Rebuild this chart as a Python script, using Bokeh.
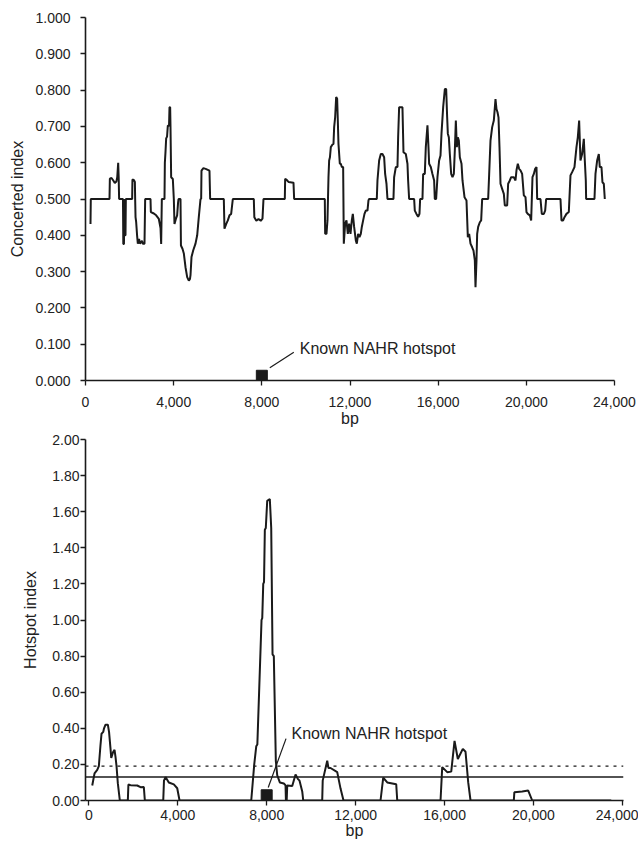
from bokeh.plotting import figure
from bokeh.models import SingleIntervalTicker, NumeralTickFormatter, Span
from bokeh.core.properties import value
from bokeh.embed import file_html
from bokeh.resources import INLINE

# ---- concerted index along the sequence (bp, index) ----
conc_bp = [
    227, 240, 1089, 1105, 1180, 1260, 1330, 1400, 1440, 1483, 1505, 1525,
    1700, 1715, 1745, 1760, 1790, 1815, 1830, 2117, 2130, 2200, 2240, 2253,
    2270, 2299, 2340, 2374, 2430, 2470, 2560, 2600, 2677, 2707, 2949, 2965,
    3100, 3206, 3327, 3403, 3433, 3463, 3584, 3600, 3629, 3660, 3700, 3735,
    3790, 3811, 3841, 3856, 3886, 3962, 4007, 4037, 4100, 4158, 4200, 4220,
    4310, 4330, 4400, 4461, 4537, 4613, 4688, 4740, 4764, 4809, 4885, 4991,
    5067, 5140, 5218, 5247, 5262, 5350, 5450, 5625, 5655, 6275, 6305, 6381,
    6457, 6532, 6608, 6684, 7636, 7660, 7750, 7850, 7950, 8030, 8075,
    9043, 9058, 9119, 9209, 9436, 9466, 10857, 10873, 10933, 10978, 11024,
    11054, 11090, 11130, 11205, 11251, 11281, 11326, 11372, 11417, 11447,
    11477, 11538, 11583, 11629, 11689, 11719, 11780, 11840, 11901, 11961,
    12022, 12082, 12128, 12188, 12264, 12309, 12369, 12430, 12490, 12536,
    12596, 12657, 12717, 12793, 12838, 12868, 13216, 13246, 13322, 13398,
    13473, 13549, 13594, 13655, 13700, 13972, 14002, 14078, 14154, 14184,
    14229, 14380, 14426, 14532, 14607, 14637, 14683, 14910, 14940, 15015,
    15091, 15152, 15182, 15288, 15318, 15393, 15439, 15514, 15560, 15590,
    15666, 15741, 15817, 15847, 15908, 15968, 16044, 16106, 16151, 16227,
    16303, 16363, 16408, 16439, 16484, 16529, 16590, 16650, 16711, 16756,
    16802, 16847, 16892, 16938, 16983, 17059, 17104, 17195, 17285, 17346,
    17406, 17467, 17542, 17603, 17663, 17694, 17739, 17769, 17815, 17890,
    17951, 17996, 18268, 18314, 18374, 18450, 18525, 18601, 18646, 18692,
    18737, 18782, 18828, 18903, 18979, 19024, 19130, 19175, 19251, 19311,
    19432, 19508, 19553, 19614, 19674, 19735, 19810, 19886, 19962, 20007,
    20067, 20158, 20219, 20279, 20340, 20400, 20461, 20491, 20642, 20702,
    20793, 20854, 20899, 21549, 21595, 21670, 21731, 21821, 21927, 22003,
    22078, 22184, 22275, 22335, 22396, 22456, 22532, 22608, 22653, 22698,
    22713, 23091, 23137, 23212, 23288, 23333, 23409, 23454, 23515, 23560,
]
conc_idx = [
    0.431, 0.500, 0.500, 0.556, 0.558, 0.551, 0.544, 0.548, 0.560, 0.600, 0.560, 0.500,
    0.500, 0.376, 0.376, 0.500, 0.400, 0.400, 0.500, 0.500, 0.554, 0.552, 0.547, 0.500,
    0.450, 0.436, 0.400, 0.377, 0.390, 0.377, 0.385, 0.377, 0.377, 0.500, 0.500, 0.464,
    0.460, 0.455, 0.445, 0.420, 0.376, 0.500, 0.500, 0.600, 0.629, 0.667, 0.672, 0.702,
    0.702, 0.753, 0.753, 0.700, 0.560, 0.555, 0.500, 0.431, 0.445, 0.455, 0.490, 0.500,
    0.500, 0.372, 0.363, 0.350, 0.312, 0.285, 0.275, 0.280, 0.290, 0.340, 0.358, 0.377,
    0.400, 0.450, 0.500, 0.500, 0.578, 0.585, 0.583, 0.578, 0.500, 0.500, 0.418, 0.431,
    0.441, 0.455, 0.459, 0.500, 0.500, 0.450, 0.440, 0.445, 0.440, 0.446, 0.500,
    0.500, 0.556, 0.553, 0.547, 0.545, 0.500, 0.500, 0.404, 0.404, 0.441, 0.560,
    0.606, 0.615, 0.643, 0.650, 0.652, 0.698, 0.725, 0.781, 0.776, 0.716,
    0.652, 0.597, 0.597, 0.588, 0.588, 0.377, 0.432, 0.441, 0.404, 0.432,
    0.404, 0.441, 0.459, 0.423, 0.386, 0.377, 0.404, 0.395, 0.404, 0.423,
    0.441, 0.459, 0.468, 0.468, 0.496, 0.500, 0.500, 0.551, 0.606, 0.624,
    0.624, 0.615, 0.569, 0.542, 0.500, 0.500, 0.560, 0.588, 0.588, 0.670,
    0.753, 0.753, 0.629, 0.624, 0.597, 0.551, 0.500, 0.500, 0.468, 0.459,
    0.451, 0.459, 0.500, 0.500, 0.569, 0.569, 0.643, 0.703, 0.643, 0.597,
    0.588, 0.569, 0.551, 0.500, 0.500, 0.560, 0.606, 0.620, 0.680, 0.753,
    0.803, 0.803, 0.725, 0.680, 0.670, 0.624, 0.569, 0.560, 0.569, 0.634,
    0.716, 0.643, 0.670, 0.661, 0.615, 0.597, 0.551, 0.505, 0.496, 0.395,
    0.404, 0.377, 0.367, 0.358, 0.331, 0.257, 0.331, 0.404, 0.423, 0.436,
    0.441, 0.500, 0.500, 0.569, 0.661, 0.698, 0.716, 0.775, 0.748, 0.739,
    0.725, 0.643, 0.542, 0.528, 0.514, 0.482, 0.482, 0.542, 0.551, 0.560,
    0.560, 0.551, 0.579, 0.597, 0.583, 0.579, 0.569, 0.510, 0.505, 0.464,
    0.459, 0.455, 0.441, 0.560, 0.569, 0.583, 0.588, 0.500, 0.500, 0.459,
    0.459, 0.468, 0.500, 0.500, 0.441, 0.441, 0.450, 0.459, 0.464, 0.565,
    0.574, 0.588, 0.643, 0.670, 0.716, 0.606, 0.624, 0.666, 0.606, 0.551,
    0.500, 0.500, 0.569, 0.606, 0.624, 0.588, 0.588, 0.546, 0.542, 0.500,
]

# ---- hotspot index along the sequence (bp, index) ----
hot_bp = [
    153, 256, 378, 450, 526, 571, 648, 684, 751, 855, 909, 976, 1008, 1097,
    1156, 1201, 1246, 1304, 1394, 1754, 1780, 1876, 2177, 2325, 2474, 2519,
    3347, 3380, 3450, 3598, 3823, 3976, 4080, 7305, 7440, 7530, 7580, 7768,
    7800, 7845, 7880, 7917, 7960, 8024, 8141, 8204, 8263, 8321, 8411, 8474,
    8591, 8771, 8848, 8865, 8900, 8924, 9149, 9298, 9400, 9478, 9599, 9644,
    10498, 10520, 10723, 10780, 10872, 11173, 11322, 11456, 13121, 13242,
    13422, 13827, 13872, 15820, 15896, 16121, 16301, 16450, 16598, 16823,
    16944, 17065, 17169, 19117, 19140, 19494, 19764, 19944, 23500,
]
hot_idx = [
    0.083, 0.150, 0.170, 0.190, 0.310, 0.370, 0.380, 0.400, 0.420, 0.420, 0.380, 0.286, 0.236, 0.270,
    0.280, 0.240, 0.190, 0.096, 0.000, 0.000, 0.089, 0.085, 0.083, 0.074, 0.075, 0.000,
    0.000, 0.110, 0.130, 0.100, 0.089, 0.068, 0.000, 0.000, 0.200, 0.300, 0.310, 1.000,
    1.010, 1.200, 1.210, 1.500, 1.510, 1.660, 1.670, 1.510, 0.810, 0.800, 0.220, 0.140,
    0.100, 0.094, 0.085, 0.000, 0.000, 0.083, 0.080, 0.144, 0.120, 0.110, 0.050, 0.000,
    0.000, 0.110, 0.220, 0.180, 0.180, 0.157, 0.066, 0.000, 0.000, 0.127,
    0.100, 0.090, 0.000, 0.000, 0.185, 0.157, 0.160, 0.330, 0.230, 0.286,
    0.270, 0.100, 0.000, 0.000, 0.046, 0.050, 0.055, 0.000, 0.000,
]

hotspot_bp = 8000           # known NAHR hotspot position
hotspot_label = "Known NAHR hotspot"
threshold_solid = 0.13      # solid reference level, hotspot panel
threshold_dotted = 0.19     # dotted reference level, hotspot panel
bp_max = 24000

FONT = "Liberation Sans"
INK = "#1a1a1a"
TEXT = "#222222"


def style_axes(p, y_fmt, y_step, x_std, x_lbl_std, y_std, y_lbl_std):
    xa, ya = p.xaxis[0], p.yaxis[0]
    xa.ticker = SingleIntervalTicker(interval=4000, num_minor_ticks=0)
    xa.formatter = NumeralTickFormatter(format="0,0")
    ya.ticker = SingleIntervalTicker(interval=y_step, num_minor_ticks=0)
    ya.formatter = NumeralTickFormatter(format=y_fmt)
    for ax in (xa, ya):
        ax.axis_line_color = INK
        ax.axis_line_width = 1.6
        ax.major_tick_line_color = INK
        ax.major_tick_line_width = 1.3
        ax.major_tick_in = 0
        ax.major_tick_out = 5
        ax.minor_tick_line_color = None
        ax.major_label_text_font = FONT
        ax.major_label_text_font_size = "14px"
        ax.major_label_text_color = TEXT
        ax.axis_label_text_font = FONT
        ax.axis_label_text_font_size = "16px"
        ax.axis_label_text_font_style = "normal"
        ax.axis_label_text_color = TEXT
    xa.major_label_standoff = x_std
    xa.axis_label_standoff = x_lbl_std
    ya.major_label_standoff = y_std
    ya.axis_label_standoff = y_lbl_std
    p.xgrid.visible = False
    p.ygrid.visible = False
    p.outline_line_color = None


# ---- upper panel: concerted index ----
top = figure(width=638, height=429, x_range=(0, bp_max), y_range=(0, 1.0),
             output_backend="svg", toolbar_location=None,
             min_border_left=85, min_border_right=24,
             min_border_top=17, min_border_bottom=49,
             x_axis_label="bp", y_axis_label="Concerted index")
style_axes(top, "0.000", 0.1, 11, 0, 10, 6)
top.line(conc_bp, conc_idx, line_color=INK, line_width=2)
top.scatter([hotspot_bp], [0.013], marker="square", size=11,
            fill_color=INK, line_color=INK)
top.segment(x0=[8362], y0=[0.035], x1=[9451], y1=[0.078],
            line_color=INK, line_width=1.2)
top.text(x=[9720], y=[0.087], text=[hotspot_label],
         text_font=value(FONT), text_font_size="16px", text_color=TEXT,
         text_align="left", text_baseline="middle")

# ---- lower panel: hotspot index ----
bot = figure(width=638, height=413, x_range=(-150, 24050), y_range=(0, 2.0),
             output_backend="svg", toolbar_location=None,
             min_border_left=85, min_border_right=15,
             min_border_top=10, min_border_bottom=42,
             x_axis_label="bp", y_axis_label="Hotspot index")
style_axes(bot, "0.00", 0.2, 4, -1, 1, 10)
bot.add_layout(Span(location=threshold_dotted, dimension="width",
                    line_color=INK, line_width=1.3, line_dash="3 5"))
bot.add_layout(Span(location=threshold_solid, dimension="width",
                    line_color=INK, line_width=1.5))
bot.line(hot_bp, hot_idx, line_color=INK, line_width=2)
bot.scatter([hotspot_bp], [0.029], marker="square", size=11,
            fill_color=INK, line_color=INK)
bot.segment(x0=[8069], y0=[0.072], x1=[8870], y1=[0.343],
            line_color=INK, line_width=1.2)
bot.text(x=[9118], y=[0.373], text=[hotspot_label],
         text_font=value(FONT), text_font_size="16px", text_color=TEXT,
         text_align="left", text_baseline="middle")

# the two panels are independent roots, stacked on the page
open("out.html", "w").write(file_html([top, bot], INLINE))
